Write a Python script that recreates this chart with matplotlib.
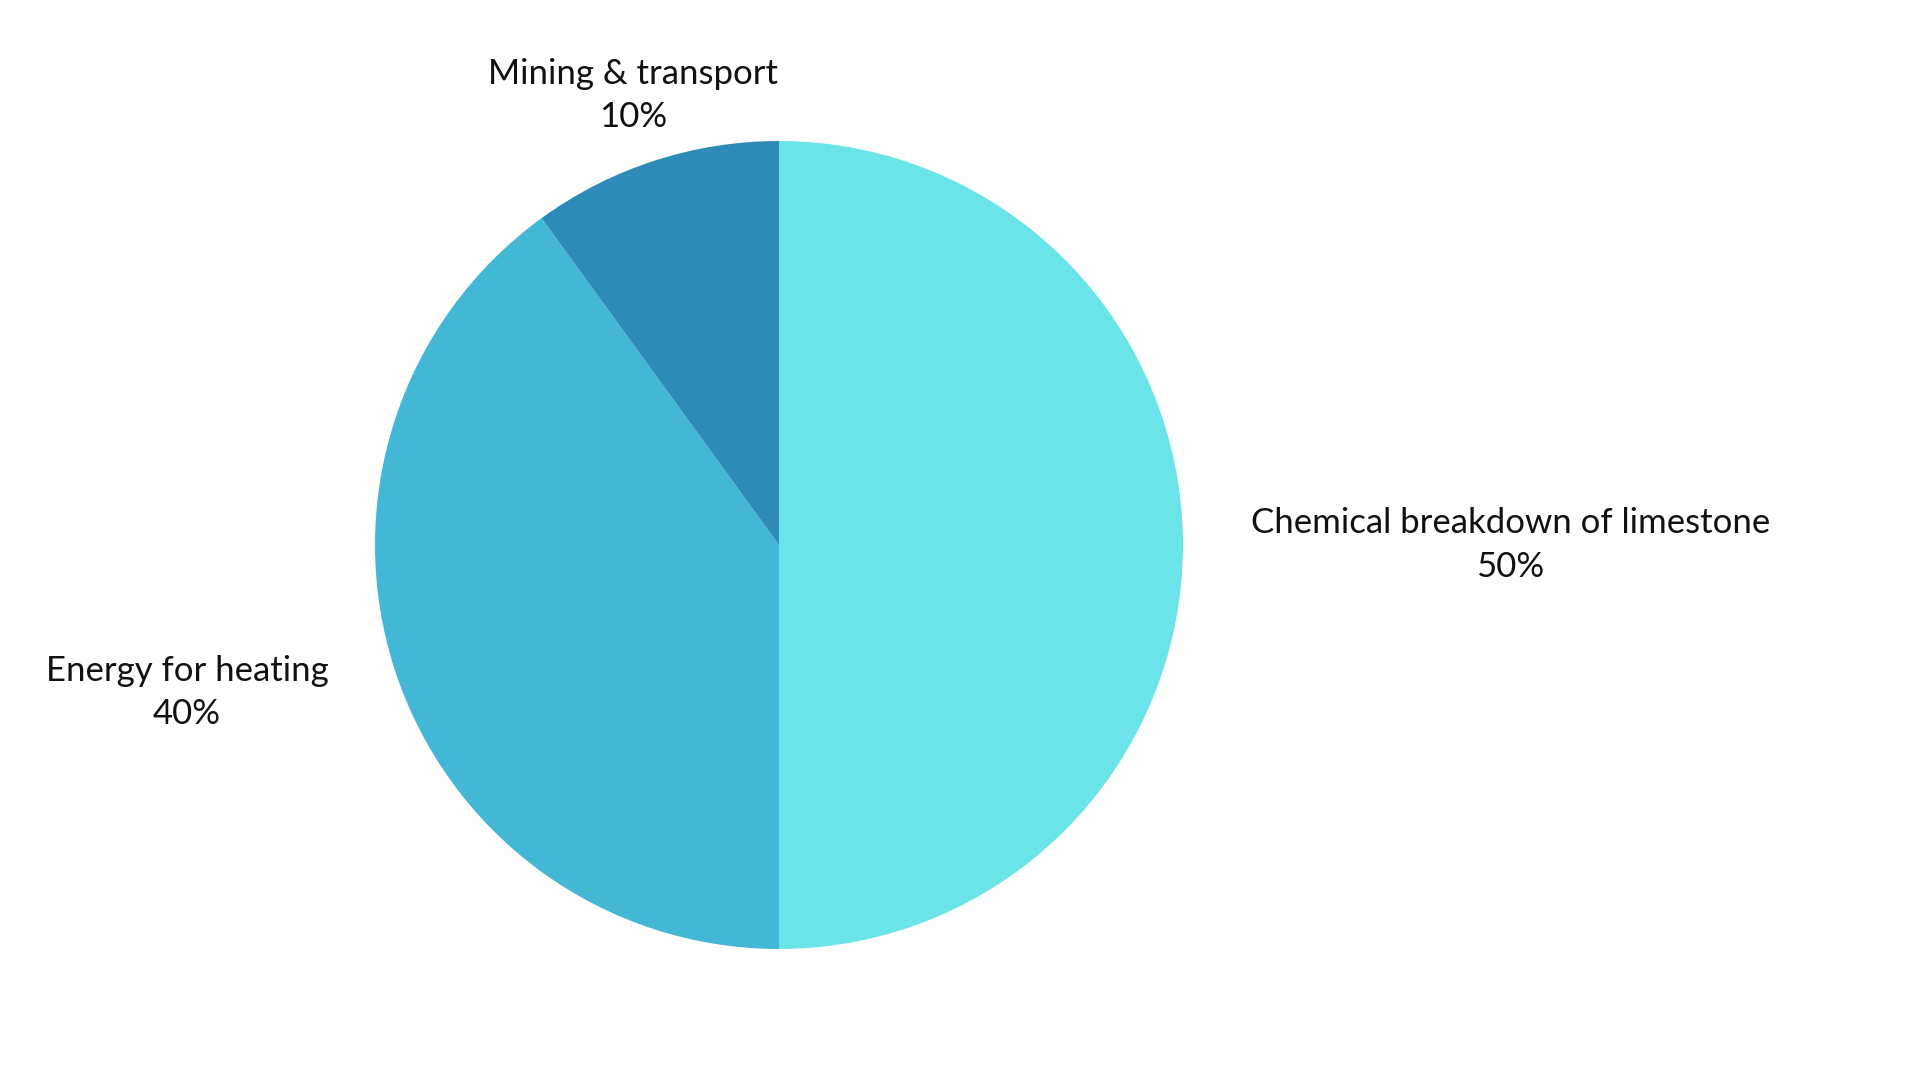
import matplotlib.pyplot as plt
import numpy as np

# data
labels = ["Chemical breakdown of limestone", "Energy for heating", "Mining & transport"]
shares = [50, 40, 10]
colors = ["#6ae4e8", "#42b7d6", "#2d8bb8"]
# label placement: distance from centre (in radii) and angle nudge (deg)
label_dist = [1.81, 1.51, 1.17]
label_shift = [0, -4, 0]

plt.rcParams['font.family'] = ['Lato', 'DejaVu Sans']

fig = plt.figure(figsize=(19.2, 10.8), dpi=100)
ax = fig.add_axes([0, 0, 1, 1])

cx, cy, r = 779, 535, 404
wedges, _ = ax.pie(shares, colors=colors, startangle=90, counterclock=False,
                   center=(cx, cy), radius=r, frame=True)
ax.set_xlim(0, 1920)
ax.set_ylim(0, 1080)
ax.set_aspect('equal')
ax.axis('off')

for w, lab, val, d, s in zip(wedges, labels, shares, label_dist, label_shift):
    ang = np.deg2rad((w.theta1 + w.theta2) / 2 + s)
    x = cx + d * r * np.cos(ang)
    y = cy + d * r * np.sin(ang)
    ax.text(x, y, f"{lab}\n{val}%", ha='center', va='center',
            fontsize=25, linespacing=1.45, color='#111111')

plt.savefig("out.png", dpi=100)
